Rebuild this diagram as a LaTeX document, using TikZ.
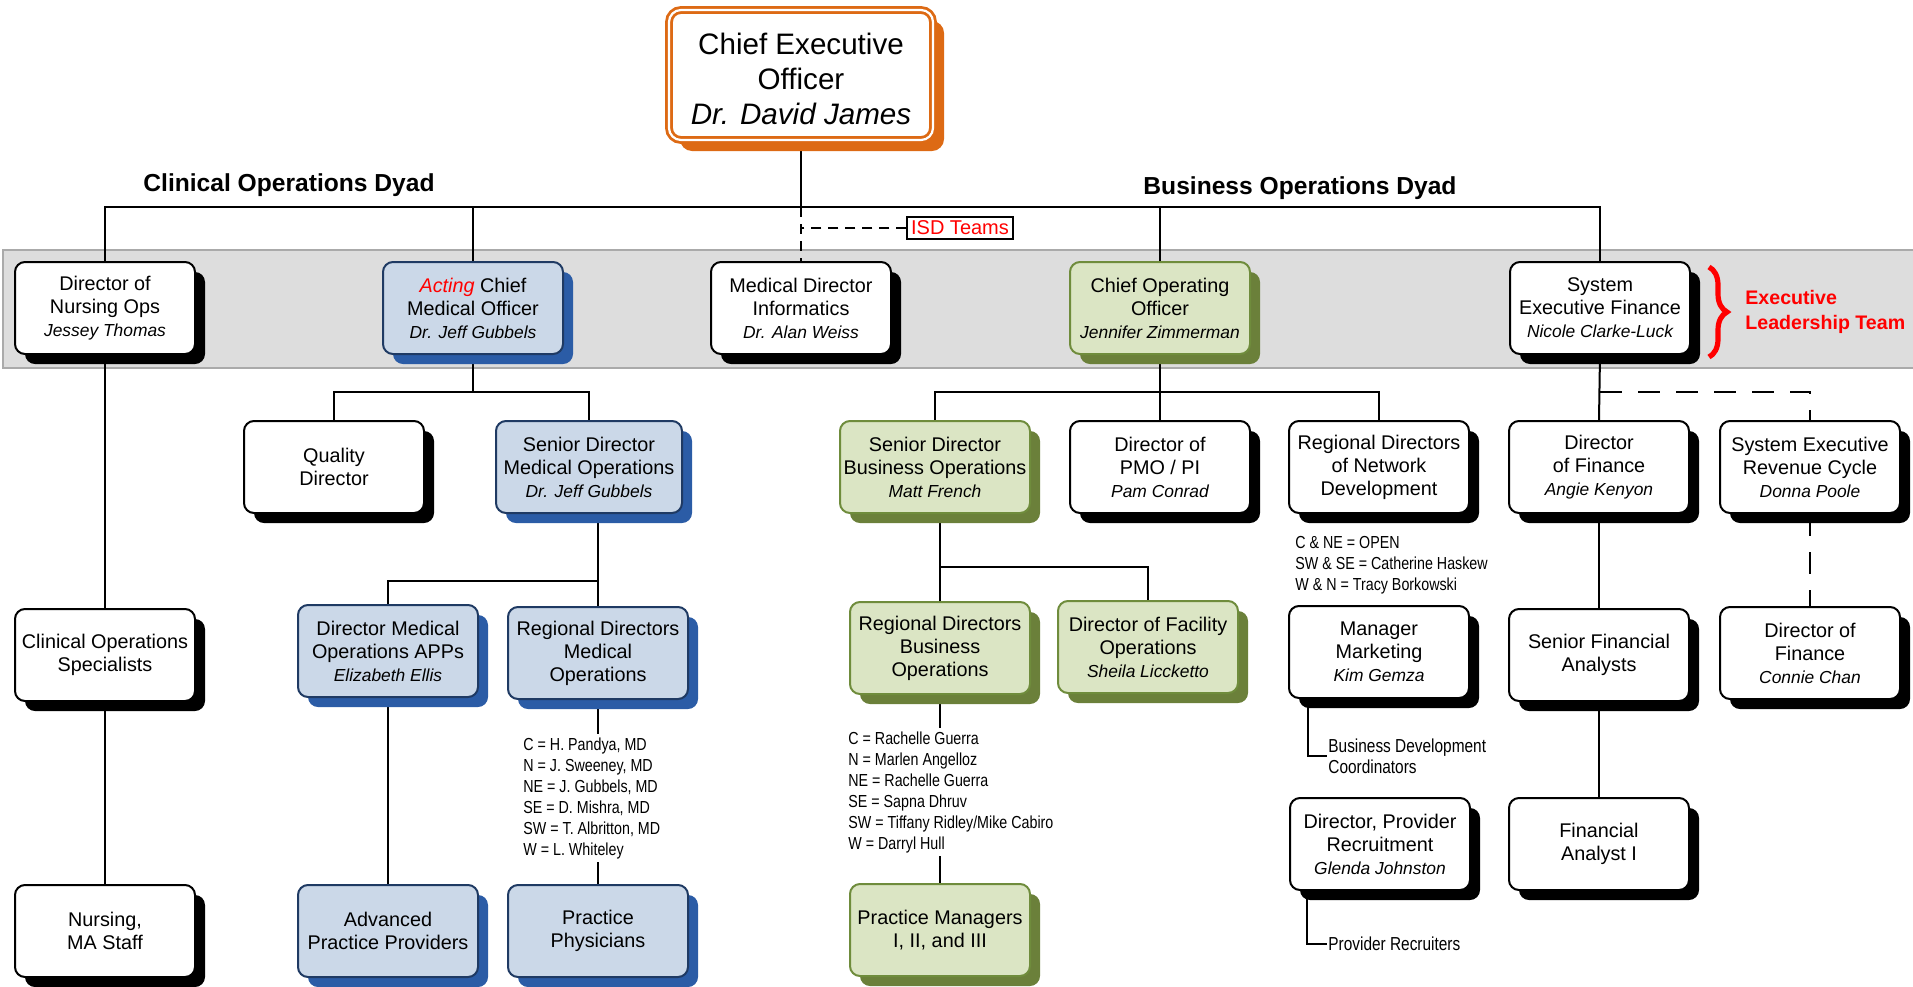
\documentclass[tikz,border=0pt]{standalone}
\usepackage{fontspec}
\setmainfont{Liberation Sans}
\newfontfamily\narrowfont[FakeStretch=0.82]{Liberation Sans}
\usetikzlibrary{shadows,decorations.pathreplacing}
\definecolor{ceoorange}{HTML}{DD6A14}
\definecolor{medfill}{HTML}{CBD8E8}
\definecolor{medline}{HTML}{1F3A63}
\definecolor{medshadow}{HTML}{2B5CA6}
\definecolor{busfill}{HTML}{DBE5C4}
\definecolor{busline}{HTML}{6F8C3C}
\definecolor{busshadow}{HTML}{6B803A}
\definecolor{bandfill}{HTML}{DDDDDD}
\definecolor{bandline}{HTML}{AAAAAA}
\pgfdeclarelayer{band}
\pgfdeclarelayer{links}
\pgfsetlayers{band,links,main}
\newcommand{\pname}[1]{{\fontsize{8.7}{10}\selectfont\itshape #1}}

\begin{document}
\begin{tikzpicture}[x=0.5pt, y=-0.5pt,
  orgbox/.style={rounded corners=5pt, line width=1pt, align=center,
    minimum width=90pt, minimum height=46pt, inner sep=1pt,
    font=\fontsize{9.9}{11.5}\selectfont},
  plainbox/.style={orgbox, draw=black, fill=white,
    drop shadow={shadow xshift=5pt, shadow yshift=-5pt, fill=black, opacity=1}},
  medbox/.style={orgbox, draw=medline, fill=medfill,
    drop shadow={shadow xshift=5pt, shadow yshift=-5pt, fill=medshadow, opacity=1}},
  busbox/.style={orgbox, draw=busline, fill=busfill,
    drop shadow={shadow xshift=5pt, shadow yshift=-5pt, fill=busshadow, opacity=1}},
  ceobox/.style={rounded corners=6pt, draw=ceoorange, double=white, double distance=1.1pt,
    line width=1.4pt, fill=white, align=center, minimum width=132pt, minimum height=65pt,
    font=\fontsize{14.8}{17.5}\selectfont,
    drop shadow={shadow xshift=5.5pt, shadow yshift=-5.5pt, fill=ceoorange, opacity=1}},
  link/.style={line width=1pt},
  isdlink/.style={link, dash pattern=on 5pt off 3.5pt},
  dashlink/.style={link, dash pattern=on 11pt off 8pt},
  roster/.style={font=\narrowfont\fontsize{8.7}{10.5}\selectfont, align=left,
    inner xsep=0pt, inner ysep=1.5pt, anchor=north west},
  teamlabel/.style={font=\narrowfont\fontsize{9.4}{10.5}\selectfont, align=left,
    inner xsep=0.5pt, inner ysep=0pt, anchor=west},
  dyad/.style={font=\bfseries\fontsize{12.3}{14}\selectfont}]

\useasboundingbox (0,0) rectangle (1913,986);

\begin{pgfonlayer}{band}
\draw[draw=bandline, fill=bandfill, line width=0.8pt] (3,250) rectangle (1918,368);
\end{pgfonlayer}

\node[ceobox] (ceo) at (801,75) {\rule{0pt}{15pt}Chief Executive\\Officer\\\textit{Dr. David James}};

\node[dyad] (clinical) at (289,185) {Clinical Operations Dyad};
\node[dyad] (business) at (1300,188) {Business Operations Dyad};
\node[draw, line width=0.8pt, inner xsep=2pt, inner ysep=2pt, text=red,
  font=\fontsize{10}{12}\selectfont] (isd) at (960,228) {ISD Teams};

\node[plainbox] (nursing) at (105,308) {Director of\\Nursing Ops\\\pname{Jessey Thomas}};
\node[medbox] (cmo) at (473,308) {\textcolor{red}{\itshape Acting} Chief\\Medical Officer\\\pname{Dr. Jeff Gubbels}};
\node[plainbox] (informatics) at (801,308) {Medical Director\\Informatics\\\pname{Dr. Alan Weiss}};
\node[busbox] (coo) at (1160,308) {Chief Operating\\Officer\\\pname{Jennifer Zimmerman}};
\node[plainbox] (sysfin) at (1600,308) {System\\Executive Finance\\\pname{Nicole Clarke-Luck}};

\draw[decorate, decoration={brace, amplitude=9pt}, red, line width=2.6pt]
  ([xshift=9pt, yshift=-3pt]sysfin.north east) -- ([xshift=9pt, yshift=-1pt]sysfin.south east);
\node[anchor=west, align=left, text=red, inner sep=0pt,
  font=\bfseries\fontsize{9.8}{12.5}\selectfont] (elt) at (1745,312) {Executive\\Leadership Team};

\node[plainbox] (quality) at (334,467) {Quality\\Director};
\node[medbox, minimum width=93pt] (srmed) at (589,467) {Senior Director\\Medical Operations\\\pname{Dr. Jeff Gubbels}};
\node[busbox, minimum width=95pt] (srbus) at (935,467) {Senior Director\\Business Operations\\\pname{Matt French}};
\node[plainbox] (pmo) at (1160,467) {Director of\\PMO / PI\\\pname{Pam Conrad}};
\node[plainbox] (network) at (1379,467) {Regional Directors\\of Network\\Development};
\node[plainbox] (dirfin) at (1599,467) {Director\\of Finance\\\pname{Angie Kenyon}};
\node[plainbox] (revcycle) at (1810,467) {System Executive\\Revenue Cycle\\\pname{Donna Poole}};

\node[plainbox] (specialists) at (105,655) {Clinical Operations\\Specialists};
\node[medbox] (apps) at (388,651) {Director Medical\\Operations APPs\\\pname{Elizabeth Ellis}};
\node[medbox] (regmed) at (598,653) {Regional Directors\\Medical\\Operations};
\node[busbox] (regbus) at (940,648) {Regional Directors\\Business\\Operations};
\node[busbox] (facility) at (1148,647) {Director of Facility\\Operations\\\pname{Sheila Liccketto}};
\node[plainbox] (marketing) at (1379,652) {Manager\\Marketing\\\pname{Kim Gemza}};
\node[plainbox] (seniorfa) at (1599,655) {Senior Financial\\Analysts};
\node[plainbox] (conniechan) at (1810,653) {Director of\\Finance\\\pname{Connie Chan}};

\node[roster] (medlist) at (523,734) {C = H. Pandya, MD\\N = J. Sweeney, MD\\NE = J. Gubbels, MD\\SE = D. Mishra, MD\\SW = T. Albritton, MD\\W = L. Whiteley};
\node[roster] (buslist) at (848,728) {C = Rachelle Guerra\\N = Marlen Angelloz\\NE = Rachelle Guerra\\SE = Sapna Dhruv\\SW = Tiffany Ridley/Mike Cabiro\\W = Darryl Hull};
\node[roster] (netlist) at (1295,533) {C \& NE = OPEN\\SW \& SE = Catherine Haskew\\W \& N = Tracy Borkowski};
\node[teamlabel] (bdc) at (1327,756) {Business Development\\Coordinators};
\node[teamlabel] (recruiters) at (1327,944) {Provider Recruiters};

\node[plainbox] (nursingma) at (105,931) {Nursing,\\MA Staff};
\node[medbox] (advanced) at (388,931) {Advanced\\Practice Providers};
\node[medbox] (physicians) at (598,931) {Practice\\Physicians};
\node[busbox] (practicemgr) at (940,930) {Practice Managers\\I, II, and III};
\node[plainbox] (recruitment) at (1380,844) {Director, Provider\\Recruitment\\\pname{Glenda Johnston}};
\node[plainbox] (analyst) at (1599,844) {Financial\\Analyst I};

\coordinate (bar) at (801,207);
\coordinate (cmojoin) at (473,392);
\coordinate (medjoin) at (598,581);
\coordinate (coojoin) at (1160,392);
\coordinate (busjoin) at (940,567);
\coordinate (finjoin) at (1600,392);

\begin{pgfonlayer}{links}
\draw[link] (ceo.south) -- (bar);
\draw[link] (nursing.north) |- (bar) -| (sysfin.north);
\draw[link] (cmo.north) -- (cmo.north |- bar);
\draw[link] (coo.north) -- (coo.north |- bar);
\draw[isdlink] (bar) -- (informatics.north);
\draw[isdlink] (isd.west) -- (isd.west -| bar);

\draw[link] (nursing.south) -- (specialists.north);
\draw[link] (specialists.south) -- (nursingma.north);

\draw[link] (cmo.south) -- (cmojoin);
\draw[link] (quality.north) |- (cmojoin) -| (srmed.north);
\draw[link] (srmed.south -| regmed.north) -- (regmed.north);
\draw[link] (apps.north) |- (medjoin);
\draw[link] (apps.south) -- (advanced.north);
\draw[link] (regmed.south) -- (regmed.south |- medlist.north);
\draw[link] (medlist.south -| physicians.north) -- (physicians.north);

\draw[link] (coo.south) -- (pmo.north);
\draw[link] (srbus.north) |- (coojoin) -| (network.north);
\draw[link] (srbus.south -| regbus.north) -- (regbus.north);
\draw[link] (busjoin) -| (facility.north);
\draw[link] (regbus.south) -- (regbus.south |- buslist.north);
\draw[link] (buslist.south -| practicemgr.north) -- (practicemgr.north);

\draw[link] ([xshift=10pt]marketing.south west) |- (bdc.west);
\draw[link] ([xshift=9pt]recruitment.south west) |- (recruiters.west);

\draw[link] (sysfin.south) -- (dirfin.north);
\draw[link] (dirfin.south) -- (seniorfa.north);
\draw[link] (seniorfa.south) -- (analyst.north);
\draw[dashlink] (finjoin) -| (revcycle.north);
\draw[dashlink] (revcycle.south) -- (conniechan.north);
\end{pgfonlayer}
\end{tikzpicture}
\end{document}
